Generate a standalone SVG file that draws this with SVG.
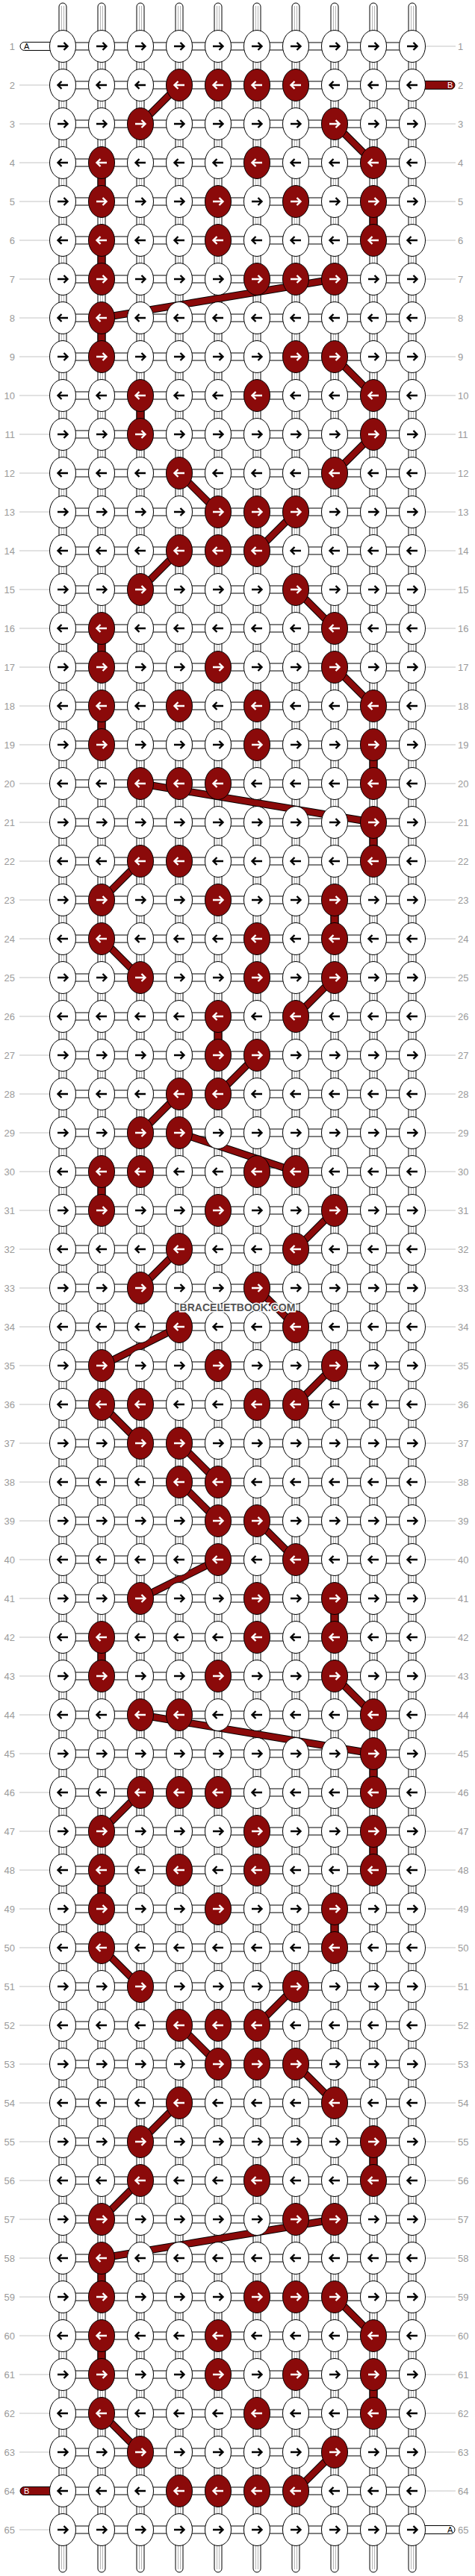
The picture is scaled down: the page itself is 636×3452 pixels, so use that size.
<svg xmlns="http://www.w3.org/2000/svg" width="636" height="3452" viewBox="0 0 636 3452">
<style>
.st{fill:#fff;stroke:#000;stroke-width:1}
.gr{fill:none;stroke:#b4b4b4;stroke-width:1}
.rl{fill:none;stroke:#c4c4c4;stroke-width:1}
.nl{font-family:"Liberation Sans",Arial,sans-serif;font-size:13px;fill:#9a9a9a;text-anchor:end}
.nr{font-family:"Liberation Sans",Arial,sans-serif;font-size:13px;fill:#9a9a9a;text-anchor:start}
.tl{font-family:"Liberation Sans",Arial,sans-serif;font-size:11px}
.stub{fill:#8b0a0a;stroke:#000;stroke-width:1}
.wm{font-family:"Liberation Sans",Arial,sans-serif;font-size:14px;font-weight:bold;fill:#555;stroke:#fff;stroke-width:3;paint-order:stroke;text-anchor:middle}
</style>
<defs>
<g id="wR"><ellipse rx="17.5" ry="21.5" fill="#fff" stroke="#000"/><path d="M-7,0H6M1.5,-5L6.5,0L1.5,5" fill="none" stroke="#000" stroke-width="2.4"/></g>
<g id="wL"><ellipse rx="17.5" ry="21.5" fill="#fff" stroke="#000"/><path d="M7,0H-6M-1.5,-5L-6.5,0L-1.5,5" fill="none" stroke="#000" stroke-width="2.4"/></g>
<g id="rR"><ellipse rx="17.5" ry="21.5" fill="#8b0a0a" stroke="#000"/><path d="M-7,0H6M1.5,-5L6.5,0L1.5,5" fill="none" stroke="#fff" stroke-width="2.4"/></g>
<g id="rL"><ellipse rx="17.5" ry="21.5" fill="#8b0a0a" stroke="#000"/><path d="M7,0H-6M-1.5,-5L-6.5,0L-1.5,5" fill="none" stroke="#fff" stroke-width="2.4"/></g>
</defs>
<rect width="636" height="3452" fill="#fff"/>
<g id="row-lines" class="rl">
<path d="M570,62H610M26,114H66M26,166H66M570,166H610M26,218H66M570,218H610M26,270H66M570,270H610M26,322H66M570,322H610M26,374H66M570,374H610M26,426H66M570,426H610M26,478H66M570,478H610M26,530H66M570,530H610M26,582H66M570,582H610M26,634H66M570,634H610M26,686H66M570,686H610M26,738H66M570,738H610M26,790H66M570,790H610M26,842H66M570,842H610M26,894H66M570,894H610M26,946H66M570,946H610M26,998H66M570,998H610M26,1050H66M570,1050H610M26,1102H66M570,1102H610M26,1154H66M570,1154H610M26,1206H66M570,1206H610M26,1258H66M570,1258H610M26,1310H66M570,1310H610M26,1362H66M570,1362H610M26,1414H66M570,1414H610M26,1466H66M570,1466H610M26,1518H66M570,1518H610M26,1570H66M570,1570H610M26,1622H66M570,1622H610M26,1674H66M570,1674H610M26,1726H66M570,1726H610M26,1778H66M570,1778H610M26,1830H66M570,1830H610M26,1882H66M570,1882H610M26,1934H66M570,1934H610M26,1986H66M570,1986H610M26,2038H66M570,2038H610M26,2090H66M570,2090H610M26,2142H66M570,2142H610M26,2194H66M570,2194H610M26,2246H66M570,2246H610M26,2298H66M570,2298H610M26,2350H66M570,2350H610M26,2402H66M570,2402H610M26,2454H66M570,2454H610M26,2506H66M570,2506H610M26,2558H66M570,2558H610M26,2610H66M570,2610H610M26,2662H66M570,2662H610M26,2714H66M570,2714H610M26,2766H66M570,2766H610M26,2818H66M570,2818H610M26,2870H66M570,2870H610M26,2922H66M570,2922H610M26,2974H66M570,2974H610M26,3026H66M570,3026H610M26,3078H66M570,3078H610M26,3130H66M570,3130H610M26,3182H66M570,3182H610M26,3234H66M570,3234H610M26,3286H66M570,3286H610M570,3338H610M26,3390H66"/>
</g>
<g id="row-numbers">
<text class="nl" x="20" y="66.5">1</text><text class="nr" x="613" y="66.5">1</text>
<text class="nl" x="20" y="118.5">2</text><text class="nr" x="613" y="118.5">2</text>
<text class="nl" x="20" y="170.5">3</text><text class="nr" x="613" y="170.5">3</text>
<text class="nl" x="20" y="222.5">4</text><text class="nr" x="613" y="222.5">4</text>
<text class="nl" x="20" y="274.5">5</text><text class="nr" x="613" y="274.5">5</text>
<text class="nl" x="20" y="326.5">6</text><text class="nr" x="613" y="326.5">6</text>
<text class="nl" x="20" y="378.5">7</text><text class="nr" x="613" y="378.5">7</text>
<text class="nl" x="20" y="430.5">8</text><text class="nr" x="613" y="430.5">8</text>
<text class="nl" x="20" y="482.5">9</text><text class="nr" x="613" y="482.5">9</text>
<text class="nl" x="20" y="534.5">10</text><text class="nr" x="613" y="534.5">10</text>
<text class="nl" x="20" y="586.5">11</text><text class="nr" x="613" y="586.5">11</text>
<text class="nl" x="20" y="638.5">12</text><text class="nr" x="613" y="638.5">12</text>
<text class="nl" x="20" y="690.5">13</text><text class="nr" x="613" y="690.5">13</text>
<text class="nl" x="20" y="742.5">14</text><text class="nr" x="613" y="742.5">14</text>
<text class="nl" x="20" y="794.5">15</text><text class="nr" x="613" y="794.5">15</text>
<text class="nl" x="20" y="846.5">16</text><text class="nr" x="613" y="846.5">16</text>
<text class="nl" x="20" y="898.5">17</text><text class="nr" x="613" y="898.5">17</text>
<text class="nl" x="20" y="950.5">18</text><text class="nr" x="613" y="950.5">18</text>
<text class="nl" x="20" y="1002.5">19</text><text class="nr" x="613" y="1002.5">19</text>
<text class="nl" x="20" y="1054.5">20</text><text class="nr" x="613" y="1054.5">20</text>
<text class="nl" x="20" y="1106.5">21</text><text class="nr" x="613" y="1106.5">21</text>
<text class="nl" x="20" y="1158.5">22</text><text class="nr" x="613" y="1158.5">22</text>
<text class="nl" x="20" y="1210.5">23</text><text class="nr" x="613" y="1210.5">23</text>
<text class="nl" x="20" y="1262.5">24</text><text class="nr" x="613" y="1262.5">24</text>
<text class="nl" x="20" y="1314.5">25</text><text class="nr" x="613" y="1314.5">25</text>
<text class="nl" x="20" y="1366.5">26</text><text class="nr" x="613" y="1366.5">26</text>
<text class="nl" x="20" y="1418.5">27</text><text class="nr" x="613" y="1418.5">27</text>
<text class="nl" x="20" y="1470.5">28</text><text class="nr" x="613" y="1470.5">28</text>
<text class="nl" x="20" y="1522.5">29</text><text class="nr" x="613" y="1522.5">29</text>
<text class="nl" x="20" y="1574.5">30</text><text class="nr" x="613" y="1574.5">30</text>
<text class="nl" x="20" y="1626.5">31</text><text class="nr" x="613" y="1626.5">31</text>
<text class="nl" x="20" y="1678.5">32</text><text class="nr" x="613" y="1678.5">32</text>
<text class="nl" x="20" y="1730.5">33</text><text class="nr" x="613" y="1730.5">33</text>
<text class="nl" x="20" y="1782.5">34</text><text class="nr" x="613" y="1782.5">34</text>
<text class="nl" x="20" y="1834.5">35</text><text class="nr" x="613" y="1834.5">35</text>
<text class="nl" x="20" y="1886.5">36</text><text class="nr" x="613" y="1886.5">36</text>
<text class="nl" x="20" y="1938.5">37</text><text class="nr" x="613" y="1938.5">37</text>
<text class="nl" x="20" y="1990.5">38</text><text class="nr" x="613" y="1990.5">38</text>
<text class="nl" x="20" y="2042.5">39</text><text class="nr" x="613" y="2042.5">39</text>
<text class="nl" x="20" y="2094.5">40</text><text class="nr" x="613" y="2094.5">40</text>
<text class="nl" x="20" y="2146.5">41</text><text class="nr" x="613" y="2146.5">41</text>
<text class="nl" x="20" y="2198.5">42</text><text class="nr" x="613" y="2198.5">42</text>
<text class="nl" x="20" y="2250.5">43</text><text class="nr" x="613" y="2250.5">43</text>
<text class="nl" x="20" y="2302.5">44</text><text class="nr" x="613" y="2302.5">44</text>
<text class="nl" x="20" y="2354.5">45</text><text class="nr" x="613" y="2354.5">45</text>
<text class="nl" x="20" y="2406.5">46</text><text class="nr" x="613" y="2406.5">46</text>
<text class="nl" x="20" y="2458.5">47</text><text class="nr" x="613" y="2458.5">47</text>
<text class="nl" x="20" y="2510.5">48</text><text class="nr" x="613" y="2510.5">48</text>
<text class="nl" x="20" y="2562.5">49</text><text class="nr" x="613" y="2562.5">49</text>
<text class="nl" x="20" y="2614.5">50</text><text class="nr" x="613" y="2614.5">50</text>
<text class="nl" x="20" y="2666.5">51</text><text class="nr" x="613" y="2666.5">51</text>
<text class="nl" x="20" y="2718.5">52</text><text class="nr" x="613" y="2718.5">52</text>
<text class="nl" x="20" y="2770.5">53</text><text class="nr" x="613" y="2770.5">53</text>
<text class="nl" x="20" y="2822.5">54</text><text class="nr" x="613" y="2822.5">54</text>
<text class="nl" x="20" y="2874.5">55</text><text class="nr" x="613" y="2874.5">55</text>
<text class="nl" x="20" y="2926.5">56</text><text class="nr" x="613" y="2926.5">56</text>
<text class="nl" x="20" y="2978.5">57</text><text class="nr" x="613" y="2978.5">57</text>
<text class="nl" x="20" y="3030.5">58</text><text class="nr" x="613" y="3030.5">58</text>
<text class="nl" x="20" y="3082.5">59</text><text class="nr" x="613" y="3082.5">59</text>
<text class="nl" x="20" y="3134.5">60</text><text class="nr" x="613" y="3134.5">60</text>
<text class="nl" x="20" y="3186.5">61</text><text class="nr" x="613" y="3186.5">61</text>
<text class="nl" x="20" y="3238.5">62</text><text class="nr" x="613" y="3238.5">62</text>
<text class="nl" x="20" y="3290.5">63</text><text class="nr" x="613" y="3290.5">63</text>
<text class="nl" x="20" y="3342.5">64</text><text class="nr" x="613" y="3342.5">64</text>
<text class="nl" x="20" y="3394.5">65</text><text class="nr" x="613" y="3394.5">65</text>
</g>
<g id="strands">
<g class="st">
<rect x="79" y="4" width="10" height="3443" rx="5"/><rect x="131" y="4" width="10" height="3443" rx="5"/><rect x="183" y="4" width="10" height="3443" rx="5"/><rect x="235" y="4" width="10" height="3443" rx="5"/><rect x="287" y="4" width="10" height="3443" rx="5"/><rect x="339" y="4" width="10" height="3443" rx="5"/><rect x="391" y="4" width="10" height="3443" rx="5"/><rect x="443" y="4" width="10" height="3443" rx="5"/><rect x="495" y="4" width="10" height="3443" rx="5"/><rect x="547" y="4" width="10" height="3443" rx="5"/>
</g>
<path class="gr" d="M82.5,8V3443M85.5,8V3443M134.5,8V3443M137.5,8V3443M186.5,8V3443M189.5,8V3443M238.5,8V3443M241.5,8V3443M290.5,8V3443M293.5,8V3443M342.5,8V3443M345.5,8V3443M394.5,8V3443M397.5,8V3443M446.5,8V3443M449.5,8V3443M498.5,8V3443M501.5,8V3443M550.5,8V3443M553.5,8V3443"/>
<g class="st">
<rect x="84" y="57" width="468" height="10"/><rect x="84" y="109" width="468" height="10"/><rect x="84" y="161" width="468" height="10"/><rect x="84" y="213" width="468" height="10"/><rect x="84" y="265" width="468" height="10"/><rect x="84" y="317" width="468" height="10"/><rect x="84" y="369" width="468" height="10"/><rect x="84" y="421" width="468" height="10"/><rect x="84" y="473" width="468" height="10"/><rect x="84" y="525" width="468" height="10"/>
<rect x="84" y="577" width="468" height="10"/><rect x="84" y="629" width="468" height="10"/><rect x="84" y="681" width="468" height="10"/><rect x="84" y="733" width="468" height="10"/><rect x="84" y="785" width="468" height="10"/><rect x="84" y="837" width="468" height="10"/><rect x="84" y="889" width="468" height="10"/><rect x="84" y="941" width="468" height="10"/><rect x="84" y="993" width="468" height="10"/><rect x="84" y="1045" width="468" height="10"/>
<rect x="84" y="1097" width="468" height="10"/><rect x="84" y="1149" width="468" height="10"/><rect x="84" y="1201" width="468" height="10"/><rect x="84" y="1253" width="468" height="10"/><rect x="84" y="1305" width="468" height="10"/><rect x="84" y="1357" width="468" height="10"/><rect x="84" y="1409" width="468" height="10"/><rect x="84" y="1461" width="468" height="10"/><rect x="84" y="1513" width="468" height="10"/><rect x="84" y="1565" width="468" height="10"/>
<rect x="84" y="1617" width="468" height="10"/><rect x="84" y="1669" width="468" height="10"/><rect x="84" y="1721" width="468" height="10"/><rect x="84" y="1773" width="468" height="10"/><rect x="84" y="1825" width="468" height="10"/><rect x="84" y="1877" width="468" height="10"/><rect x="84" y="1929" width="468" height="10"/><rect x="84" y="1981" width="468" height="10"/><rect x="84" y="2033" width="468" height="10"/><rect x="84" y="2085" width="468" height="10"/>
<rect x="84" y="2137" width="468" height="10"/><rect x="84" y="2189" width="468" height="10"/><rect x="84" y="2241" width="468" height="10"/><rect x="84" y="2293" width="468" height="10"/><rect x="84" y="2345" width="468" height="10"/><rect x="84" y="2397" width="468" height="10"/><rect x="84" y="2449" width="468" height="10"/><rect x="84" y="2501" width="468" height="10"/><rect x="84" y="2553" width="468" height="10"/><rect x="84" y="2605" width="468" height="10"/>
<rect x="84" y="2657" width="468" height="10"/><rect x="84" y="2709" width="468" height="10"/><rect x="84" y="2761" width="468" height="10"/><rect x="84" y="2813" width="468" height="10"/><rect x="84" y="2865" width="468" height="10"/><rect x="84" y="2917" width="468" height="10"/><rect x="84" y="2969" width="468" height="10"/><rect x="84" y="3021" width="468" height="10"/><rect x="84" y="3073" width="468" height="10"/><rect x="84" y="3125" width="468" height="10"/>
<rect x="84" y="3177" width="468" height="10"/><rect x="84" y="3229" width="468" height="10"/><rect x="84" y="3281" width="468" height="10"/><rect x="84" y="3333" width="468" height="10"/><rect x="84" y="3385" width="468" height="10"/>
</g>
</g>
<g id="thread-ends">
<g id="end-A-start"><path class="st" d="M68,56.5H32.5A5.5,5.5 0 0 0 32.5,67.5H68Z"/><text class="tl" x="32" y="66" fill="#000">A</text></g>
<g id="end-B-start"><path class="stub" d="M568,108.5H603.5A5.5,5.5 0 0 1 603.5,119.5H568Z"/><text class="tl" x="599" y="118" fill="#fff">B</text></g>
<g id="end-B-end"><path class="stub" d="M68,3332.5H32.5A5.5,5.5 0 0 0 32.5,3343.5H68Z"/><text class="tl" x="32" y="3342" fill="#fff">B</text></g>
<g id="end-A-end"><path class="st" d="M568,3384.5H603.5A5.5,5.5 0 0 1 603.5,3395.5H568Z"/><text class="tl" x="599" y="3394" fill="#000">A</text></g>
</g>
<g id="connectors-all">
<g stroke="#000" stroke-width="10" fill="none">
<g id="connectors">
<path id="e2" d="M240,114L188,166"/><path id="e3" d="M448,166L500,218"/><path id="e7" d="M448,374L136,426"/><path id="e9" d="M448,478L500,530"/><path id="e11" d="M500,582L448,634"/><path id="e12" d="M240,634L292,686"/><path id="e13" d="M396,686L344,738"/><path id="e14" d="M240,738L188,790"/><path id="e15" d="M396,790L448,842"/><path id="e17" d="M448,894L500,946"/><path id="e20" d="M188,1050L500,1102"/><path id="e22" d="M188,1154L136,1206"/><path id="e24" d="M136,1258L188,1310"/><path id="e25" d="M448,1310L396,1362"/><path id="e27" d="M344,1414L292,1466"/><path id="e28" d="M240,1466L188,1518"/><path id="e29" d="M240,1518L396,1570"/><path id="e31" d="M448,1622L396,1674"/><path id="e32" d="M240,1674L188,1726"/><path id="e33" d="M344,1726L396,1778"/><path id="e34" d="M240,1778L136,1830"/><path id="e35" d="M448,1830L396,1882"/><path id="e36" d="M136,1882L188,1934"/><path id="e37" d="M240,1934L292,1986"/><path id="e38" d="M240,1986L292,2038"/><path id="e39" d="M344,2038L396,2090"/><path id="e40" d="M292,2090L188,2142"/><path id="e43" d="M448,2246L500,2298"/><path id="e44" d="M188,2298L500,2350"/><path id="e46" d="M188,2402L136,2454"/><path id="e50" d="M136,2610L188,2662"/><path id="e51" d="M396,2662L344,2714"/><path id="e52" d="M240,2714L292,2766"/><path id="e53" d="M396,2766L448,2818"/><path id="e54" d="M240,2818L188,2870"/><path id="e56" d="M188,2922L136,2974"/><path id="e57" d="M448,2974L136,3026"/><path id="e59" d="M448,3078L500,3130"/><path id="e62" d="M136,3234L188,3286"/><path id="e63" d="M448,3286L396,3338"/>
</g>
</g>
<use href="#connectors" stroke="#8b0a0a" stroke-width="8" fill="none"/>
<g id="stubs" class="stub">
<rect x="131" y="237" width="10" height="14"/><rect x="495" y="289" width="10" height="14"/><rect x="131" y="341" width="10" height="14"/><rect x="131" y="445" width="10" height="14"/><rect x="183" y="549" width="10" height="14"/><rect x="131" y="861" width="10" height="14"/><rect x="131" y="965" width="10" height="14"/><rect x="495" y="1017" width="10" height="14"/><rect x="495" y="1121" width="10" height="14"/><rect x="443" y="1225" width="10" height="14"/><rect x="287" y="1381" width="10" height="14"/><rect x="131" y="1589" width="10" height="14"/><rect x="443" y="2161" width="10" height="14"/><rect x="131" y="2213" width="10" height="14"/><rect x="495" y="2369" width="10" height="14"/><rect x="495" y="2473" width="10" height="14"/><rect x="131" y="2525" width="10" height="14"/><rect x="443" y="2577" width="10" height="14"/><rect x="495" y="2889" width="10" height="14"/><rect x="131" y="3045" width="10" height="14"/><rect x="131" y="3149" width="10" height="14"/><rect x="495" y="3201" width="10" height="14"/>
</g>
</g>
<g id="knots">
<g id="n1-1"><use href="#wR" x="84" y="62"/></g><g id="n1-2"><use href="#wR" x="136" y="62"/></g><g id="n1-3"><use href="#wR" x="188" y="62"/></g><g id="n1-4"><use href="#wR" x="240" y="62"/></g><g id="n1-5"><use href="#wR" x="292" y="62"/></g><g id="n1-6"><use href="#wR" x="344" y="62"/></g><g id="n1-7"><use href="#wR" x="396" y="62"/></g><g id="n1-8"><use href="#wR" x="448" y="62"/></g><g id="n1-9"><use href="#wR" x="500" y="62"/></g><g id="n1-10"><use href="#wR" x="552" y="62"/></g>
<g id="n2-1"><use href="#wL" x="84" y="114"/></g><g id="n2-2"><use href="#wL" x="136" y="114"/></g><g id="n2-3"><use href="#wL" x="188" y="114"/></g><g id="n2-4"><use href="#rL" x="240" y="114"/></g><g id="n2-5"><use href="#rL" x="292" y="114"/></g><g id="n2-6"><use href="#rL" x="344" y="114"/></g><g id="n2-7"><use href="#rL" x="396" y="114"/></g><g id="n2-8"><use href="#wL" x="448" y="114"/></g><g id="n2-9"><use href="#wL" x="500" y="114"/></g><g id="n2-10"><use href="#wL" x="552" y="114"/></g>
<g id="n3-1"><use href="#wR" x="84" y="166"/></g><g id="n3-2"><use href="#wR" x="136" y="166"/></g><g id="n3-3"><use href="#rR" x="188" y="166"/></g><g id="n3-4"><use href="#wR" x="240" y="166"/></g><g id="n3-5"><use href="#wR" x="292" y="166"/></g><g id="n3-6"><use href="#wR" x="344" y="166"/></g><g id="n3-7"><use href="#wR" x="396" y="166"/></g><g id="n3-8"><use href="#rR" x="448" y="166"/></g><g id="n3-9"><use href="#wR" x="500" y="166"/></g><g id="n3-10"><use href="#wR" x="552" y="166"/></g>
<g id="n4-1"><use href="#wL" x="84" y="218"/></g><g id="n4-2"><use href="#rL" x="136" y="218"/></g><g id="n4-3"><use href="#wL" x="188" y="218"/></g><g id="n4-4"><use href="#wL" x="240" y="218"/></g><g id="n4-5"><use href="#wL" x="292" y="218"/></g><g id="n4-6"><use href="#rL" x="344" y="218"/></g><g id="n4-7"><use href="#wL" x="396" y="218"/></g><g id="n4-8"><use href="#wL" x="448" y="218"/></g><g id="n4-9"><use href="#rL" x="500" y="218"/></g><g id="n4-10"><use href="#wL" x="552" y="218"/></g>
<g id="n5-1"><use href="#wR" x="84" y="270"/></g><g id="n5-2"><use href="#rR" x="136" y="270"/></g><g id="n5-3"><use href="#wR" x="188" y="270"/></g><g id="n5-4"><use href="#wR" x="240" y="270"/></g><g id="n5-5"><use href="#rR" x="292" y="270"/></g><g id="n5-6"><use href="#wR" x="344" y="270"/></g><g id="n5-7"><use href="#rR" x="396" y="270"/></g><g id="n5-8"><use href="#wR" x="448" y="270"/></g><g id="n5-9"><use href="#rR" x="500" y="270"/></g><g id="n5-10"><use href="#wR" x="552" y="270"/></g>
<g id="n6-1"><use href="#wL" x="84" y="322"/></g><g id="n6-2"><use href="#rL" x="136" y="322"/></g><g id="n6-3"><use href="#wL" x="188" y="322"/></g><g id="n6-4"><use href="#wL" x="240" y="322"/></g><g id="n6-5"><use href="#rL" x="292" y="322"/></g><g id="n6-6"><use href="#wL" x="344" y="322"/></g><g id="n6-7"><use href="#wL" x="396" y="322"/></g><g id="n6-8"><use href="#wL" x="448" y="322"/></g><g id="n6-9"><use href="#rL" x="500" y="322"/></g><g id="n6-10"><use href="#wL" x="552" y="322"/></g>
<g id="n7-1"><use href="#wR" x="84" y="374"/></g><g id="n7-2"><use href="#rR" x="136" y="374"/></g><g id="n7-3"><use href="#wR" x="188" y="374"/></g><g id="n7-4"><use href="#wR" x="240" y="374"/></g><g id="n7-5"><use href="#wR" x="292" y="374"/></g><g id="n7-6"><use href="#rR" x="344" y="374"/></g><g id="n7-7"><use href="#rR" x="396" y="374"/></g><g id="n7-8"><use href="#rR" x="448" y="374"/></g><g id="n7-9"><use href="#wR" x="500" y="374"/></g><g id="n7-10"><use href="#wR" x="552" y="374"/></g>
<g id="n8-1"><use href="#wL" x="84" y="426"/></g><g id="n8-2"><use href="#rL" x="136" y="426"/></g><g id="n8-3"><use href="#wL" x="188" y="426"/></g><g id="n8-4"><use href="#wL" x="240" y="426"/></g><g id="n8-5"><use href="#wL" x="292" y="426"/></g><g id="n8-6"><use href="#wL" x="344" y="426"/></g><g id="n8-7"><use href="#wL" x="396" y="426"/></g><g id="n8-8"><use href="#wL" x="448" y="426"/></g><g id="n8-9"><use href="#wL" x="500" y="426"/></g><g id="n8-10"><use href="#wL" x="552" y="426"/></g>
<g id="n9-1"><use href="#wR" x="84" y="478"/></g><g id="n9-2"><use href="#rR" x="136" y="478"/></g><g id="n9-3"><use href="#wR" x="188" y="478"/></g><g id="n9-4"><use href="#wR" x="240" y="478"/></g><g id="n9-5"><use href="#wR" x="292" y="478"/></g><g id="n9-6"><use href="#wR" x="344" y="478"/></g><g id="n9-7"><use href="#rR" x="396" y="478"/></g><g id="n9-8"><use href="#rR" x="448" y="478"/></g><g id="n9-9"><use href="#wR" x="500" y="478"/></g><g id="n9-10"><use href="#wR" x="552" y="478"/></g>
<g id="n10-1"><use href="#wL" x="84" y="530"/></g><g id="n10-2"><use href="#wL" x="136" y="530"/></g><g id="n10-3"><use href="#rL" x="188" y="530"/></g><g id="n10-4"><use href="#wL" x="240" y="530"/></g><g id="n10-5"><use href="#wL" x="292" y="530"/></g><g id="n10-6"><use href="#rL" x="344" y="530"/></g><g id="n10-7"><use href="#wL" x="396" y="530"/></g><g id="n10-8"><use href="#wL" x="448" y="530"/></g><g id="n10-9"><use href="#rL" x="500" y="530"/></g><g id="n10-10"><use href="#wL" x="552" y="530"/></g>
<g id="n11-1"><use href="#wR" x="84" y="582"/></g><g id="n11-2"><use href="#wR" x="136" y="582"/></g><g id="n11-3"><use href="#rR" x="188" y="582"/></g><g id="n11-4"><use href="#wR" x="240" y="582"/></g><g id="n11-5"><use href="#wR" x="292" y="582"/></g><g id="n11-6"><use href="#wR" x="344" y="582"/></g><g id="n11-7"><use href="#wR" x="396" y="582"/></g><g id="n11-8"><use href="#wR" x="448" y="582"/></g><g id="n11-9"><use href="#rR" x="500" y="582"/></g><g id="n11-10"><use href="#wR" x="552" y="582"/></g>
<g id="n12-1"><use href="#wL" x="84" y="634"/></g><g id="n12-2"><use href="#wL" x="136" y="634"/></g><g id="n12-3"><use href="#wL" x="188" y="634"/></g><g id="n12-4"><use href="#rL" x="240" y="634"/></g><g id="n12-5"><use href="#wL" x="292" y="634"/></g><g id="n12-6"><use href="#wL" x="344" y="634"/></g><g id="n12-7"><use href="#wL" x="396" y="634"/></g><g id="n12-8"><use href="#rL" x="448" y="634"/></g><g id="n12-9"><use href="#wL" x="500" y="634"/></g><g id="n12-10"><use href="#wL" x="552" y="634"/></g>
<g id="n13-1"><use href="#wR" x="84" y="686"/></g><g id="n13-2"><use href="#wR" x="136" y="686"/></g><g id="n13-3"><use href="#wR" x="188" y="686"/></g><g id="n13-4"><use href="#wR" x="240" y="686"/></g><g id="n13-5"><use href="#rR" x="292" y="686"/></g><g id="n13-6"><use href="#rR" x="344" y="686"/></g><g id="n13-7"><use href="#rR" x="396" y="686"/></g><g id="n13-8"><use href="#wR" x="448" y="686"/></g><g id="n13-9"><use href="#wR" x="500" y="686"/></g><g id="n13-10"><use href="#wR" x="552" y="686"/></g>
<g id="n14-1"><use href="#wL" x="84" y="738"/></g><g id="n14-2"><use href="#wL" x="136" y="738"/></g><g id="n14-3"><use href="#wL" x="188" y="738"/></g><g id="n14-4"><use href="#rL" x="240" y="738"/></g><g id="n14-5"><use href="#rL" x="292" y="738"/></g><g id="n14-6"><use href="#rL" x="344" y="738"/></g><g id="n14-7"><use href="#wL" x="396" y="738"/></g><g id="n14-8"><use href="#wL" x="448" y="738"/></g><g id="n14-9"><use href="#wL" x="500" y="738"/></g><g id="n14-10"><use href="#wL" x="552" y="738"/></g>
<g id="n15-1"><use href="#wR" x="84" y="790"/></g><g id="n15-2"><use href="#wR" x="136" y="790"/></g><g id="n15-3"><use href="#rR" x="188" y="790"/></g><g id="n15-4"><use href="#wR" x="240" y="790"/></g><g id="n15-5"><use href="#wR" x="292" y="790"/></g><g id="n15-6"><use href="#wR" x="344" y="790"/></g><g id="n15-7"><use href="#rR" x="396" y="790"/></g><g id="n15-8"><use href="#wR" x="448" y="790"/></g><g id="n15-9"><use href="#wR" x="500" y="790"/></g><g id="n15-10"><use href="#wR" x="552" y="790"/></g>
<g id="n16-1"><use href="#wL" x="84" y="842"/></g><g id="n16-2"><use href="#rL" x="136" y="842"/></g><g id="n16-3"><use href="#wL" x="188" y="842"/></g><g id="n16-4"><use href="#wL" x="240" y="842"/></g><g id="n16-5"><use href="#wL" x="292" y="842"/></g><g id="n16-6"><use href="#wL" x="344" y="842"/></g><g id="n16-7"><use href="#wL" x="396" y="842"/></g><g id="n16-8"><use href="#rL" x="448" y="842"/></g><g id="n16-9"><use href="#wL" x="500" y="842"/></g><g id="n16-10"><use href="#wL" x="552" y="842"/></g>
<g id="n17-1"><use href="#wR" x="84" y="894"/></g><g id="n17-2"><use href="#rR" x="136" y="894"/></g><g id="n17-3"><use href="#wR" x="188" y="894"/></g><g id="n17-4"><use href="#wR" x="240" y="894"/></g><g id="n17-5"><use href="#rR" x="292" y="894"/></g><g id="n17-6"><use href="#wR" x="344" y="894"/></g><g id="n17-7"><use href="#wR" x="396" y="894"/></g><g id="n17-8"><use href="#rR" x="448" y="894"/></g><g id="n17-9"><use href="#wR" x="500" y="894"/></g><g id="n17-10"><use href="#wR" x="552" y="894"/></g>
<g id="n18-1"><use href="#wL" x="84" y="946"/></g><g id="n18-2"><use href="#rL" x="136" y="946"/></g><g id="n18-3"><use href="#wL" x="188" y="946"/></g><g id="n18-4"><use href="#rL" x="240" y="946"/></g><g id="n18-5"><use href="#wL" x="292" y="946"/></g><g id="n18-6"><use href="#rL" x="344" y="946"/></g><g id="n18-7"><use href="#wL" x="396" y="946"/></g><g id="n18-8"><use href="#wL" x="448" y="946"/></g><g id="n18-9"><use href="#rL" x="500" y="946"/></g><g id="n18-10"><use href="#wL" x="552" y="946"/></g>
<g id="n19-1"><use href="#wR" x="84" y="998"/></g><g id="n19-2"><use href="#rR" x="136" y="998"/></g><g id="n19-3"><use href="#wR" x="188" y="998"/></g><g id="n19-4"><use href="#wR" x="240" y="998"/></g><g id="n19-5"><use href="#wR" x="292" y="998"/></g><g id="n19-6"><use href="#rR" x="344" y="998"/></g><g id="n19-7"><use href="#wR" x="396" y="998"/></g><g id="n19-8"><use href="#wR" x="448" y="998"/></g><g id="n19-9"><use href="#rR" x="500" y="998"/></g><g id="n19-10"><use href="#wR" x="552" y="998"/></g>
<g id="n20-1"><use href="#wL" x="84" y="1050"/></g><g id="n20-2"><use href="#wL" x="136" y="1050"/></g><g id="n20-3"><use href="#rL" x="188" y="1050"/></g><g id="n20-4"><use href="#rL" x="240" y="1050"/></g><g id="n20-5"><use href="#rL" x="292" y="1050"/></g><g id="n20-6"><use href="#wL" x="344" y="1050"/></g><g id="n20-7"><use href="#wL" x="396" y="1050"/></g><g id="n20-8"><use href="#wL" x="448" y="1050"/></g><g id="n20-9"><use href="#rL" x="500" y="1050"/></g><g id="n20-10"><use href="#wL" x="552" y="1050"/></g>
<g id="n21-1"><use href="#wR" x="84" y="1102"/></g><g id="n21-2"><use href="#wR" x="136" y="1102"/></g><g id="n21-3"><use href="#wR" x="188" y="1102"/></g><g id="n21-4"><use href="#wR" x="240" y="1102"/></g><g id="n21-5"><use href="#wR" x="292" y="1102"/></g><g id="n21-6"><use href="#wR" x="344" y="1102"/></g><g id="n21-7"><use href="#wR" x="396" y="1102"/></g><g id="n21-8"><use href="#wR" x="448" y="1102"/></g><g id="n21-9"><use href="#rR" x="500" y="1102"/></g><g id="n21-10"><use href="#wR" x="552" y="1102"/></g>
<g id="n22-1"><use href="#wL" x="84" y="1154"/></g><g id="n22-2"><use href="#wL" x="136" y="1154"/></g><g id="n22-3"><use href="#rL" x="188" y="1154"/></g><g id="n22-4"><use href="#rL" x="240" y="1154"/></g><g id="n22-5"><use href="#wL" x="292" y="1154"/></g><g id="n22-6"><use href="#wL" x="344" y="1154"/></g><g id="n22-7"><use href="#wL" x="396" y="1154"/></g><g id="n22-8"><use href="#wL" x="448" y="1154"/></g><g id="n22-9"><use href="#rL" x="500" y="1154"/></g><g id="n22-10"><use href="#wL" x="552" y="1154"/></g>
<g id="n23-1"><use href="#wR" x="84" y="1206"/></g><g id="n23-2"><use href="#rR" x="136" y="1206"/></g><g id="n23-3"><use href="#wR" x="188" y="1206"/></g><g id="n23-4"><use href="#wR" x="240" y="1206"/></g><g id="n23-5"><use href="#rR" x="292" y="1206"/></g><g id="n23-6"><use href="#wR" x="344" y="1206"/></g><g id="n23-7"><use href="#wR" x="396" y="1206"/></g><g id="n23-8"><use href="#rR" x="448" y="1206"/></g><g id="n23-9"><use href="#wR" x="500" y="1206"/></g><g id="n23-10"><use href="#wR" x="552" y="1206"/></g>
<g id="n24-1"><use href="#wL" x="84" y="1258"/></g><g id="n24-2"><use href="#rL" x="136" y="1258"/></g><g id="n24-3"><use href="#wL" x="188" y="1258"/></g><g id="n24-4"><use href="#wL" x="240" y="1258"/></g><g id="n24-5"><use href="#wL" x="292" y="1258"/></g><g id="n24-6"><use href="#rL" x="344" y="1258"/></g><g id="n24-7"><use href="#wL" x="396" y="1258"/></g><g id="n24-8"><use href="#rL" x="448" y="1258"/></g><g id="n24-9"><use href="#wL" x="500" y="1258"/></g><g id="n24-10"><use href="#wL" x="552" y="1258"/></g>
<g id="n25-1"><use href="#wR" x="84" y="1310"/></g><g id="n25-2"><use href="#wR" x="136" y="1310"/></g><g id="n25-3"><use href="#rR" x="188" y="1310"/></g><g id="n25-4"><use href="#wR" x="240" y="1310"/></g><g id="n25-5"><use href="#wR" x="292" y="1310"/></g><g id="n25-6"><use href="#rR" x="344" y="1310"/></g><g id="n25-7"><use href="#wR" x="396" y="1310"/></g><g id="n25-8"><use href="#rR" x="448" y="1310"/></g><g id="n25-9"><use href="#wR" x="500" y="1310"/></g><g id="n25-10"><use href="#wR" x="552" y="1310"/></g>
<g id="n26-1"><use href="#wL" x="84" y="1362"/></g><g id="n26-2"><use href="#wL" x="136" y="1362"/></g><g id="n26-3"><use href="#wL" x="188" y="1362"/></g><g id="n26-4"><use href="#wL" x="240" y="1362"/></g><g id="n26-5"><use href="#rL" x="292" y="1362"/></g><g id="n26-6"><use href="#wL" x="344" y="1362"/></g><g id="n26-7"><use href="#rL" x="396" y="1362"/></g><g id="n26-8"><use href="#wL" x="448" y="1362"/></g><g id="n26-9"><use href="#wL" x="500" y="1362"/></g><g id="n26-10"><use href="#wL" x="552" y="1362"/></g>
<g id="n27-1"><use href="#wR" x="84" y="1414"/></g><g id="n27-2"><use href="#wR" x="136" y="1414"/></g><g id="n27-3"><use href="#wR" x="188" y="1414"/></g><g id="n27-4"><use href="#wR" x="240" y="1414"/></g><g id="n27-5"><use href="#rR" x="292" y="1414"/></g><g id="n27-6"><use href="#rR" x="344" y="1414"/></g><g id="n27-7"><use href="#wR" x="396" y="1414"/></g><g id="n27-8"><use href="#wR" x="448" y="1414"/></g><g id="n27-9"><use href="#wR" x="500" y="1414"/></g><g id="n27-10"><use href="#wR" x="552" y="1414"/></g>
<g id="n28-1"><use href="#wL" x="84" y="1466"/></g><g id="n28-2"><use href="#wL" x="136" y="1466"/></g><g id="n28-3"><use href="#wL" x="188" y="1466"/></g><g id="n28-4"><use href="#rL" x="240" y="1466"/></g><g id="n28-5"><use href="#rL" x="292" y="1466"/></g><g id="n28-6"><use href="#wL" x="344" y="1466"/></g><g id="n28-7"><use href="#wL" x="396" y="1466"/></g><g id="n28-8"><use href="#wL" x="448" y="1466"/></g><g id="n28-9"><use href="#wL" x="500" y="1466"/></g><g id="n28-10"><use href="#wL" x="552" y="1466"/></g>
<g id="n29-1"><use href="#wR" x="84" y="1518"/></g><g id="n29-2"><use href="#wR" x="136" y="1518"/></g><g id="n29-3"><use href="#rR" x="188" y="1518"/></g><g id="n29-4"><use href="#rR" x="240" y="1518"/></g><g id="n29-5"><use href="#wR" x="292" y="1518"/></g><g id="n29-6"><use href="#wR" x="344" y="1518"/></g><g id="n29-7"><use href="#wR" x="396" y="1518"/></g><g id="n29-8"><use href="#wR" x="448" y="1518"/></g><g id="n29-9"><use href="#wR" x="500" y="1518"/></g><g id="n29-10"><use href="#wR" x="552" y="1518"/></g>
<g id="n30-1"><use href="#wL" x="84" y="1570"/></g><g id="n30-2"><use href="#rL" x="136" y="1570"/></g><g id="n30-3"><use href="#rL" x="188" y="1570"/></g><g id="n30-4"><use href="#wL" x="240" y="1570"/></g><g id="n30-5"><use href="#wL" x="292" y="1570"/></g><g id="n30-6"><use href="#rL" x="344" y="1570"/></g><g id="n30-7"><use href="#rL" x="396" y="1570"/></g><g id="n30-8"><use href="#wL" x="448" y="1570"/></g><g id="n30-9"><use href="#wL" x="500" y="1570"/></g><g id="n30-10"><use href="#wL" x="552" y="1570"/></g>
<g id="n31-1"><use href="#wR" x="84" y="1622"/></g><g id="n31-2"><use href="#rR" x="136" y="1622"/></g><g id="n31-3"><use href="#wR" x="188" y="1622"/></g><g id="n31-4"><use href="#wR" x="240" y="1622"/></g><g id="n31-5"><use href="#rR" x="292" y="1622"/></g><g id="n31-6"><use href="#wR" x="344" y="1622"/></g><g id="n31-7"><use href="#wR" x="396" y="1622"/></g><g id="n31-8"><use href="#rR" x="448" y="1622"/></g><g id="n31-9"><use href="#wR" x="500" y="1622"/></g><g id="n31-10"><use href="#wR" x="552" y="1622"/></g>
<g id="n32-1"><use href="#wL" x="84" y="1674"/></g><g id="n32-2"><use href="#wL" x="136" y="1674"/></g><g id="n32-3"><use href="#wL" x="188" y="1674"/></g><g id="n32-4"><use href="#rL" x="240" y="1674"/></g><g id="n32-5"><use href="#wL" x="292" y="1674"/></g><g id="n32-6"><use href="#wL" x="344" y="1674"/></g><g id="n32-7"><use href="#rL" x="396" y="1674"/></g><g id="n32-8"><use href="#wL" x="448" y="1674"/></g><g id="n32-9"><use href="#wL" x="500" y="1674"/></g><g id="n32-10"><use href="#wL" x="552" y="1674"/></g>
<g id="n33-1"><use href="#wR" x="84" y="1726"/></g><g id="n33-2"><use href="#wR" x="136" y="1726"/></g><g id="n33-3"><use href="#rR" x="188" y="1726"/></g><g id="n33-4"><use href="#wR" x="240" y="1726"/></g><g id="n33-5"><use href="#wR" x="292" y="1726"/></g><g id="n33-6"><use href="#rR" x="344" y="1726"/></g><g id="n33-7"><use href="#wR" x="396" y="1726"/></g><g id="n33-8"><use href="#wR" x="448" y="1726"/></g><g id="n33-9"><use href="#wR" x="500" y="1726"/></g><g id="n33-10"><use href="#wR" x="552" y="1726"/></g>
<g id="n34-1"><use href="#wL" x="84" y="1778"/></g><g id="n34-2"><use href="#wL" x="136" y="1778"/></g><g id="n34-3"><use href="#wL" x="188" y="1778"/></g><g id="n34-4"><use href="#rL" x="240" y="1778"/></g><g id="n34-5"><use href="#wL" x="292" y="1778"/></g><g id="n34-6"><use href="#wL" x="344" y="1778"/></g><g id="n34-7"><use href="#rL" x="396" y="1778"/></g><g id="n34-8"><use href="#wL" x="448" y="1778"/></g><g id="n34-9"><use href="#wL" x="500" y="1778"/></g><g id="n34-10"><use href="#wL" x="552" y="1778"/></g>
<g id="n35-1"><use href="#wR" x="84" y="1830"/></g><g id="n35-2"><use href="#rR" x="136" y="1830"/></g><g id="n35-3"><use href="#wR" x="188" y="1830"/></g><g id="n35-4"><use href="#wR" x="240" y="1830"/></g><g id="n35-5"><use href="#rR" x="292" y="1830"/></g><g id="n35-6"><use href="#wR" x="344" y="1830"/></g><g id="n35-7"><use href="#wR" x="396" y="1830"/></g><g id="n35-8"><use href="#rR" x="448" y="1830"/></g><g id="n35-9"><use href="#wR" x="500" y="1830"/></g><g id="n35-10"><use href="#wR" x="552" y="1830"/></g>
<g id="n36-1"><use href="#wL" x="84" y="1882"/></g><g id="n36-2"><use href="#rL" x="136" y="1882"/></g><g id="n36-3"><use href="#rL" x="188" y="1882"/></g><g id="n36-4"><use href="#wL" x="240" y="1882"/></g><g id="n36-5"><use href="#wL" x="292" y="1882"/></g><g id="n36-6"><use href="#rL" x="344" y="1882"/></g><g id="n36-7"><use href="#rL" x="396" y="1882"/></g><g id="n36-8"><use href="#wL" x="448" y="1882"/></g><g id="n36-9"><use href="#wL" x="500" y="1882"/></g><g id="n36-10"><use href="#wL" x="552" y="1882"/></g>
<g id="n37-1"><use href="#wR" x="84" y="1934"/></g><g id="n37-2"><use href="#wR" x="136" y="1934"/></g><g id="n37-3"><use href="#rR" x="188" y="1934"/></g><g id="n37-4"><use href="#rR" x="240" y="1934"/></g><g id="n37-5"><use href="#wR" x="292" y="1934"/></g><g id="n37-6"><use href="#wR" x="344" y="1934"/></g><g id="n37-7"><use href="#wR" x="396" y="1934"/></g><g id="n37-8"><use href="#wR" x="448" y="1934"/></g><g id="n37-9"><use href="#wR" x="500" y="1934"/></g><g id="n37-10"><use href="#wR" x="552" y="1934"/></g>
<g id="n38-1"><use href="#wL" x="84" y="1986"/></g><g id="n38-2"><use href="#wL" x="136" y="1986"/></g><g id="n38-3"><use href="#wL" x="188" y="1986"/></g><g id="n38-4"><use href="#rL" x="240" y="1986"/></g><g id="n38-5"><use href="#rL" x="292" y="1986"/></g><g id="n38-6"><use href="#wL" x="344" y="1986"/></g><g id="n38-7"><use href="#wL" x="396" y="1986"/></g><g id="n38-8"><use href="#wL" x="448" y="1986"/></g><g id="n38-9"><use href="#wL" x="500" y="1986"/></g><g id="n38-10"><use href="#wL" x="552" y="1986"/></g>
<g id="n39-1"><use href="#wR" x="84" y="2038"/></g><g id="n39-2"><use href="#wR" x="136" y="2038"/></g><g id="n39-3"><use href="#wR" x="188" y="2038"/></g><g id="n39-4"><use href="#wR" x="240" y="2038"/></g><g id="n39-5"><use href="#rR" x="292" y="2038"/></g><g id="n39-6"><use href="#rR" x="344" y="2038"/></g><g id="n39-7"><use href="#wR" x="396" y="2038"/></g><g id="n39-8"><use href="#wR" x="448" y="2038"/></g><g id="n39-9"><use href="#wR" x="500" y="2038"/></g><g id="n39-10"><use href="#wR" x="552" y="2038"/></g>
<g id="n40-1"><use href="#wL" x="84" y="2090"/></g><g id="n40-2"><use href="#wL" x="136" y="2090"/></g><g id="n40-3"><use href="#wL" x="188" y="2090"/></g><g id="n40-4"><use href="#wL" x="240" y="2090"/></g><g id="n40-5"><use href="#rL" x="292" y="2090"/></g><g id="n40-6"><use href="#wL" x="344" y="2090"/></g><g id="n40-7"><use href="#rL" x="396" y="2090"/></g><g id="n40-8"><use href="#wL" x="448" y="2090"/></g><g id="n40-9"><use href="#wL" x="500" y="2090"/></g><g id="n40-10"><use href="#wL" x="552" y="2090"/></g>
<g id="n41-1"><use href="#wR" x="84" y="2142"/></g><g id="n41-2"><use href="#wR" x="136" y="2142"/></g><g id="n41-3"><use href="#rR" x="188" y="2142"/></g><g id="n41-4"><use href="#wR" x="240" y="2142"/></g><g id="n41-5"><use href="#wR" x="292" y="2142"/></g><g id="n41-6"><use href="#rR" x="344" y="2142"/></g><g id="n41-7"><use href="#wR" x="396" y="2142"/></g><g id="n41-8"><use href="#rR" x="448" y="2142"/></g><g id="n41-9"><use href="#wR" x="500" y="2142"/></g><g id="n41-10"><use href="#wR" x="552" y="2142"/></g>
<g id="n42-1"><use href="#wL" x="84" y="2194"/></g><g id="n42-2"><use href="#rL" x="136" y="2194"/></g><g id="n42-3"><use href="#wL" x="188" y="2194"/></g><g id="n42-4"><use href="#wL" x="240" y="2194"/></g><g id="n42-5"><use href="#wL" x="292" y="2194"/></g><g id="n42-6"><use href="#rL" x="344" y="2194"/></g><g id="n42-7"><use href="#wL" x="396" y="2194"/></g><g id="n42-8"><use href="#rL" x="448" y="2194"/></g><g id="n42-9"><use href="#wL" x="500" y="2194"/></g><g id="n42-10"><use href="#wL" x="552" y="2194"/></g>
<g id="n43-1"><use href="#wR" x="84" y="2246"/></g><g id="n43-2"><use href="#rR" x="136" y="2246"/></g><g id="n43-3"><use href="#wR" x="188" y="2246"/></g><g id="n43-4"><use href="#wR" x="240" y="2246"/></g><g id="n43-5"><use href="#rR" x="292" y="2246"/></g><g id="n43-6"><use href="#wR" x="344" y="2246"/></g><g id="n43-7"><use href="#wR" x="396" y="2246"/></g><g id="n43-8"><use href="#rR" x="448" y="2246"/></g><g id="n43-9"><use href="#wR" x="500" y="2246"/></g><g id="n43-10"><use href="#wR" x="552" y="2246"/></g>
<g id="n44-1"><use href="#wL" x="84" y="2298"/></g><g id="n44-2"><use href="#wL" x="136" y="2298"/></g><g id="n44-3"><use href="#rL" x="188" y="2298"/></g><g id="n44-4"><use href="#rL" x="240" y="2298"/></g><g id="n44-5"><use href="#wL" x="292" y="2298"/></g><g id="n44-6"><use href="#wL" x="344" y="2298"/></g><g id="n44-7"><use href="#wL" x="396" y="2298"/></g><g id="n44-8"><use href="#wL" x="448" y="2298"/></g><g id="n44-9"><use href="#rL" x="500" y="2298"/></g><g id="n44-10"><use href="#wL" x="552" y="2298"/></g>
<g id="n45-1"><use href="#wR" x="84" y="2350"/></g><g id="n45-2"><use href="#wR" x="136" y="2350"/></g><g id="n45-3"><use href="#wR" x="188" y="2350"/></g><g id="n45-4"><use href="#wR" x="240" y="2350"/></g><g id="n45-5"><use href="#wR" x="292" y="2350"/></g><g id="n45-6"><use href="#wR" x="344" y="2350"/></g><g id="n45-7"><use href="#wR" x="396" y="2350"/></g><g id="n45-8"><use href="#wR" x="448" y="2350"/></g><g id="n45-9"><use href="#rR" x="500" y="2350"/></g><g id="n45-10"><use href="#wR" x="552" y="2350"/></g>
<g id="n46-1"><use href="#wL" x="84" y="2402"/></g><g id="n46-2"><use href="#wL" x="136" y="2402"/></g><g id="n46-3"><use href="#rL" x="188" y="2402"/></g><g id="n46-4"><use href="#rL" x="240" y="2402"/></g><g id="n46-5"><use href="#rL" x="292" y="2402"/></g><g id="n46-6"><use href="#wL" x="344" y="2402"/></g><g id="n46-7"><use href="#wL" x="396" y="2402"/></g><g id="n46-8"><use href="#wL" x="448" y="2402"/></g><g id="n46-9"><use href="#rL" x="500" y="2402"/></g><g id="n46-10"><use href="#wL" x="552" y="2402"/></g>
<g id="n47-1"><use href="#wR" x="84" y="2454"/></g><g id="n47-2"><use href="#rR" x="136" y="2454"/></g><g id="n47-3"><use href="#wR" x="188" y="2454"/></g><g id="n47-4"><use href="#wR" x="240" y="2454"/></g><g id="n47-5"><use href="#wR" x="292" y="2454"/></g><g id="n47-6"><use href="#rR" x="344" y="2454"/></g><g id="n47-7"><use href="#wR" x="396" y="2454"/></g><g id="n47-8"><use href="#wR" x="448" y="2454"/></g><g id="n47-9"><use href="#rR" x="500" y="2454"/></g><g id="n47-10"><use href="#wR" x="552" y="2454"/></g>
<g id="n48-1"><use href="#wL" x="84" y="2506"/></g><g id="n48-2"><use href="#rL" x="136" y="2506"/></g><g id="n48-3"><use href="#wL" x="188" y="2506"/></g><g id="n48-4"><use href="#rL" x="240" y="2506"/></g><g id="n48-5"><use href="#wL" x="292" y="2506"/></g><g id="n48-6"><use href="#rL" x="344" y="2506"/></g><g id="n48-7"><use href="#wL" x="396" y="2506"/></g><g id="n48-8"><use href="#wL" x="448" y="2506"/></g><g id="n48-9"><use href="#rL" x="500" y="2506"/></g><g id="n48-10"><use href="#wL" x="552" y="2506"/></g>
<g id="n49-1"><use href="#wR" x="84" y="2558"/></g><g id="n49-2"><use href="#rR" x="136" y="2558"/></g><g id="n49-3"><use href="#wR" x="188" y="2558"/></g><g id="n49-4"><use href="#wR" x="240" y="2558"/></g><g id="n49-5"><use href="#rR" x="292" y="2558"/></g><g id="n49-6"><use href="#wR" x="344" y="2558"/></g><g id="n49-7"><use href="#wR" x="396" y="2558"/></g><g id="n49-8"><use href="#rR" x="448" y="2558"/></g><g id="n49-9"><use href="#wR" x="500" y="2558"/></g><g id="n49-10"><use href="#wR" x="552" y="2558"/></g>
<g id="n50-1"><use href="#wL" x="84" y="2610"/></g><g id="n50-2"><use href="#rL" x="136" y="2610"/></g><g id="n50-3"><use href="#wL" x="188" y="2610"/></g><g id="n50-4"><use href="#wL" x="240" y="2610"/></g><g id="n50-5"><use href="#wL" x="292" y="2610"/></g><g id="n50-6"><use href="#wL" x="344" y="2610"/></g><g id="n50-7"><use href="#wL" x="396" y="2610"/></g><g id="n50-8"><use href="#rL" x="448" y="2610"/></g><g id="n50-9"><use href="#wL" x="500" y="2610"/></g><g id="n50-10"><use href="#wL" x="552" y="2610"/></g>
<g id="n51-1"><use href="#wR" x="84" y="2662"/></g><g id="n51-2"><use href="#wR" x="136" y="2662"/></g><g id="n51-3"><use href="#rR" x="188" y="2662"/></g><g id="n51-4"><use href="#wR" x="240" y="2662"/></g><g id="n51-5"><use href="#wR" x="292" y="2662"/></g><g id="n51-6"><use href="#wR" x="344" y="2662"/></g><g id="n51-7"><use href="#rR" x="396" y="2662"/></g><g id="n51-8"><use href="#wR" x="448" y="2662"/></g><g id="n51-9"><use href="#wR" x="500" y="2662"/></g><g id="n51-10"><use href="#wR" x="552" y="2662"/></g>
<g id="n52-1"><use href="#wL" x="84" y="2714"/></g><g id="n52-2"><use href="#wL" x="136" y="2714"/></g><g id="n52-3"><use href="#wL" x="188" y="2714"/></g><g id="n52-4"><use href="#rL" x="240" y="2714"/></g><g id="n52-5"><use href="#rL" x="292" y="2714"/></g><g id="n52-6"><use href="#rL" x="344" y="2714"/></g><g id="n52-7"><use href="#wL" x="396" y="2714"/></g><g id="n52-8"><use href="#wL" x="448" y="2714"/></g><g id="n52-9"><use href="#wL" x="500" y="2714"/></g><g id="n52-10"><use href="#wL" x="552" y="2714"/></g>
<g id="n53-1"><use href="#wR" x="84" y="2766"/></g><g id="n53-2"><use href="#wR" x="136" y="2766"/></g><g id="n53-3"><use href="#wR" x="188" y="2766"/></g><g id="n53-4"><use href="#wR" x="240" y="2766"/></g><g id="n53-5"><use href="#rR" x="292" y="2766"/></g><g id="n53-6"><use href="#rR" x="344" y="2766"/></g><g id="n53-7"><use href="#rR" x="396" y="2766"/></g><g id="n53-8"><use href="#wR" x="448" y="2766"/></g><g id="n53-9"><use href="#wR" x="500" y="2766"/></g><g id="n53-10"><use href="#wR" x="552" y="2766"/></g>
<g id="n54-1"><use href="#wL" x="84" y="2818"/></g><g id="n54-2"><use href="#wL" x="136" y="2818"/></g><g id="n54-3"><use href="#wL" x="188" y="2818"/></g><g id="n54-4"><use href="#rL" x="240" y="2818"/></g><g id="n54-5"><use href="#wL" x="292" y="2818"/></g><g id="n54-6"><use href="#wL" x="344" y="2818"/></g><g id="n54-7"><use href="#wL" x="396" y="2818"/></g><g id="n54-8"><use href="#rL" x="448" y="2818"/></g><g id="n54-9"><use href="#wL" x="500" y="2818"/></g><g id="n54-10"><use href="#wL" x="552" y="2818"/></g>
<g id="n55-1"><use href="#wR" x="84" y="2870"/></g><g id="n55-2"><use href="#wR" x="136" y="2870"/></g><g id="n55-3"><use href="#rR" x="188" y="2870"/></g><g id="n55-4"><use href="#wR" x="240" y="2870"/></g><g id="n55-5"><use href="#wR" x="292" y="2870"/></g><g id="n55-6"><use href="#wR" x="344" y="2870"/></g><g id="n55-7"><use href="#wR" x="396" y="2870"/></g><g id="n55-8"><use href="#wR" x="448" y="2870"/></g><g id="n55-9"><use href="#rR" x="500" y="2870"/></g><g id="n55-10"><use href="#wR" x="552" y="2870"/></g>
<g id="n56-1"><use href="#wL" x="84" y="2922"/></g><g id="n56-2"><use href="#wL" x="136" y="2922"/></g><g id="n56-3"><use href="#rL" x="188" y="2922"/></g><g id="n56-4"><use href="#wL" x="240" y="2922"/></g><g id="n56-5"><use href="#wL" x="292" y="2922"/></g><g id="n56-6"><use href="#rL" x="344" y="2922"/></g><g id="n56-7"><use href="#wL" x="396" y="2922"/></g><g id="n56-8"><use href="#wL" x="448" y="2922"/></g><g id="n56-9"><use href="#rL" x="500" y="2922"/></g><g id="n56-10"><use href="#wL" x="552" y="2922"/></g>
<g id="n57-1"><use href="#wR" x="84" y="2974"/></g><g id="n57-2"><use href="#rR" x="136" y="2974"/></g><g id="n57-3"><use href="#wR" x="188" y="2974"/></g><g id="n57-4"><use href="#wR" x="240" y="2974"/></g><g id="n57-5"><use href="#wR" x="292" y="2974"/></g><g id="n57-6"><use href="#wR" x="344" y="2974"/></g><g id="n57-7"><use href="#rR" x="396" y="2974"/></g><g id="n57-8"><use href="#rR" x="448" y="2974"/></g><g id="n57-9"><use href="#wR" x="500" y="2974"/></g><g id="n57-10"><use href="#wR" x="552" y="2974"/></g>
<g id="n58-1"><use href="#wL" x="84" y="3026"/></g><g id="n58-2"><use href="#rL" x="136" y="3026"/></g><g id="n58-3"><use href="#wL" x="188" y="3026"/></g><g id="n58-4"><use href="#wL" x="240" y="3026"/></g><g id="n58-5"><use href="#wL" x="292" y="3026"/></g><g id="n58-6"><use href="#wL" x="344" y="3026"/></g><g id="n58-7"><use href="#wL" x="396" y="3026"/></g><g id="n58-8"><use href="#wL" x="448" y="3026"/></g><g id="n58-9"><use href="#wL" x="500" y="3026"/></g><g id="n58-10"><use href="#wL" x="552" y="3026"/></g>
<g id="n59-1"><use href="#wR" x="84" y="3078"/></g><g id="n59-2"><use href="#rR" x="136" y="3078"/></g><g id="n59-3"><use href="#wR" x="188" y="3078"/></g><g id="n59-4"><use href="#wR" x="240" y="3078"/></g><g id="n59-5"><use href="#wR" x="292" y="3078"/></g><g id="n59-6"><use href="#rR" x="344" y="3078"/></g><g id="n59-7"><use href="#rR" x="396" y="3078"/></g><g id="n59-8"><use href="#rR" x="448" y="3078"/></g><g id="n59-9"><use href="#wR" x="500" y="3078"/></g><g id="n59-10"><use href="#wR" x="552" y="3078"/></g>
<g id="n60-1"><use href="#wL" x="84" y="3130"/></g><g id="n60-2"><use href="#rL" x="136" y="3130"/></g><g id="n60-3"><use href="#wL" x="188" y="3130"/></g><g id="n60-4"><use href="#wL" x="240" y="3130"/></g><g id="n60-5"><use href="#rL" x="292" y="3130"/></g><g id="n60-6"><use href="#wL" x="344" y="3130"/></g><g id="n60-7"><use href="#wL" x="396" y="3130"/></g><g id="n60-8"><use href="#wL" x="448" y="3130"/></g><g id="n60-9"><use href="#rL" x="500" y="3130"/></g><g id="n60-10"><use href="#wL" x="552" y="3130"/></g>
<g id="n61-1"><use href="#wR" x="84" y="3182"/></g><g id="n61-2"><use href="#rR" x="136" y="3182"/></g><g id="n61-3"><use href="#wR" x="188" y="3182"/></g><g id="n61-4"><use href="#wR" x="240" y="3182"/></g><g id="n61-5"><use href="#rR" x="292" y="3182"/></g><g id="n61-6"><use href="#wR" x="344" y="3182"/></g><g id="n61-7"><use href="#rR" x="396" y="3182"/></g><g id="n61-8"><use href="#wR" x="448" y="3182"/></g><g id="n61-9"><use href="#rR" x="500" y="3182"/></g><g id="n61-10"><use href="#wR" x="552" y="3182"/></g>
<g id="n62-1"><use href="#wL" x="84" y="3234"/></g><g id="n62-2"><use href="#rL" x="136" y="3234"/></g><g id="n62-3"><use href="#wL" x="188" y="3234"/></g><g id="n62-4"><use href="#wL" x="240" y="3234"/></g><g id="n62-5"><use href="#wL" x="292" y="3234"/></g><g id="n62-6"><use href="#rL" x="344" y="3234"/></g><g id="n62-7"><use href="#wL" x="396" y="3234"/></g><g id="n62-8"><use href="#wL" x="448" y="3234"/></g><g id="n62-9"><use href="#rL" x="500" y="3234"/></g><g id="n62-10"><use href="#wL" x="552" y="3234"/></g>
<g id="n63-1"><use href="#wR" x="84" y="3286"/></g><g id="n63-2"><use href="#wR" x="136" y="3286"/></g><g id="n63-3"><use href="#rR" x="188" y="3286"/></g><g id="n63-4"><use href="#wR" x="240" y="3286"/></g><g id="n63-5"><use href="#wR" x="292" y="3286"/></g><g id="n63-6"><use href="#wR" x="344" y="3286"/></g><g id="n63-7"><use href="#wR" x="396" y="3286"/></g><g id="n63-8"><use href="#rR" x="448" y="3286"/></g><g id="n63-9"><use href="#wR" x="500" y="3286"/></g><g id="n63-10"><use href="#wR" x="552" y="3286"/></g>
<g id="n64-1"><use href="#wL" x="84" y="3338"/></g><g id="n64-2"><use href="#wL" x="136" y="3338"/></g><g id="n64-3"><use href="#wL" x="188" y="3338"/></g><g id="n64-4"><use href="#rL" x="240" y="3338"/></g><g id="n64-5"><use href="#rL" x="292" y="3338"/></g><g id="n64-6"><use href="#rL" x="344" y="3338"/></g><g id="n64-7"><use href="#rL" x="396" y="3338"/></g><g id="n64-8"><use href="#wL" x="448" y="3338"/></g><g id="n64-9"><use href="#wL" x="500" y="3338"/></g><g id="n64-10"><use href="#wL" x="552" y="3338"/></g>
<g id="n65-1"><use href="#wR" x="84" y="3390"/></g><g id="n65-2"><use href="#wR" x="136" y="3390"/></g><g id="n65-3"><use href="#wR" x="188" y="3390"/></g><g id="n65-4"><use href="#wR" x="240" y="3390"/></g><g id="n65-5"><use href="#wR" x="292" y="3390"/></g><g id="n65-6"><use href="#wR" x="344" y="3390"/></g><g id="n65-7"><use href="#wR" x="396" y="3390"/></g><g id="n65-8"><use href="#wR" x="448" y="3390"/></g><g id="n65-9"><use href="#wR" x="500" y="3390"/></g><g id="n65-10"><use href="#wR" x="552" y="3390"/></g>
</g>
<text id="watermark" class="wm" x="318" y="1757">BRACELETBOOK.COM</text>
</svg>
